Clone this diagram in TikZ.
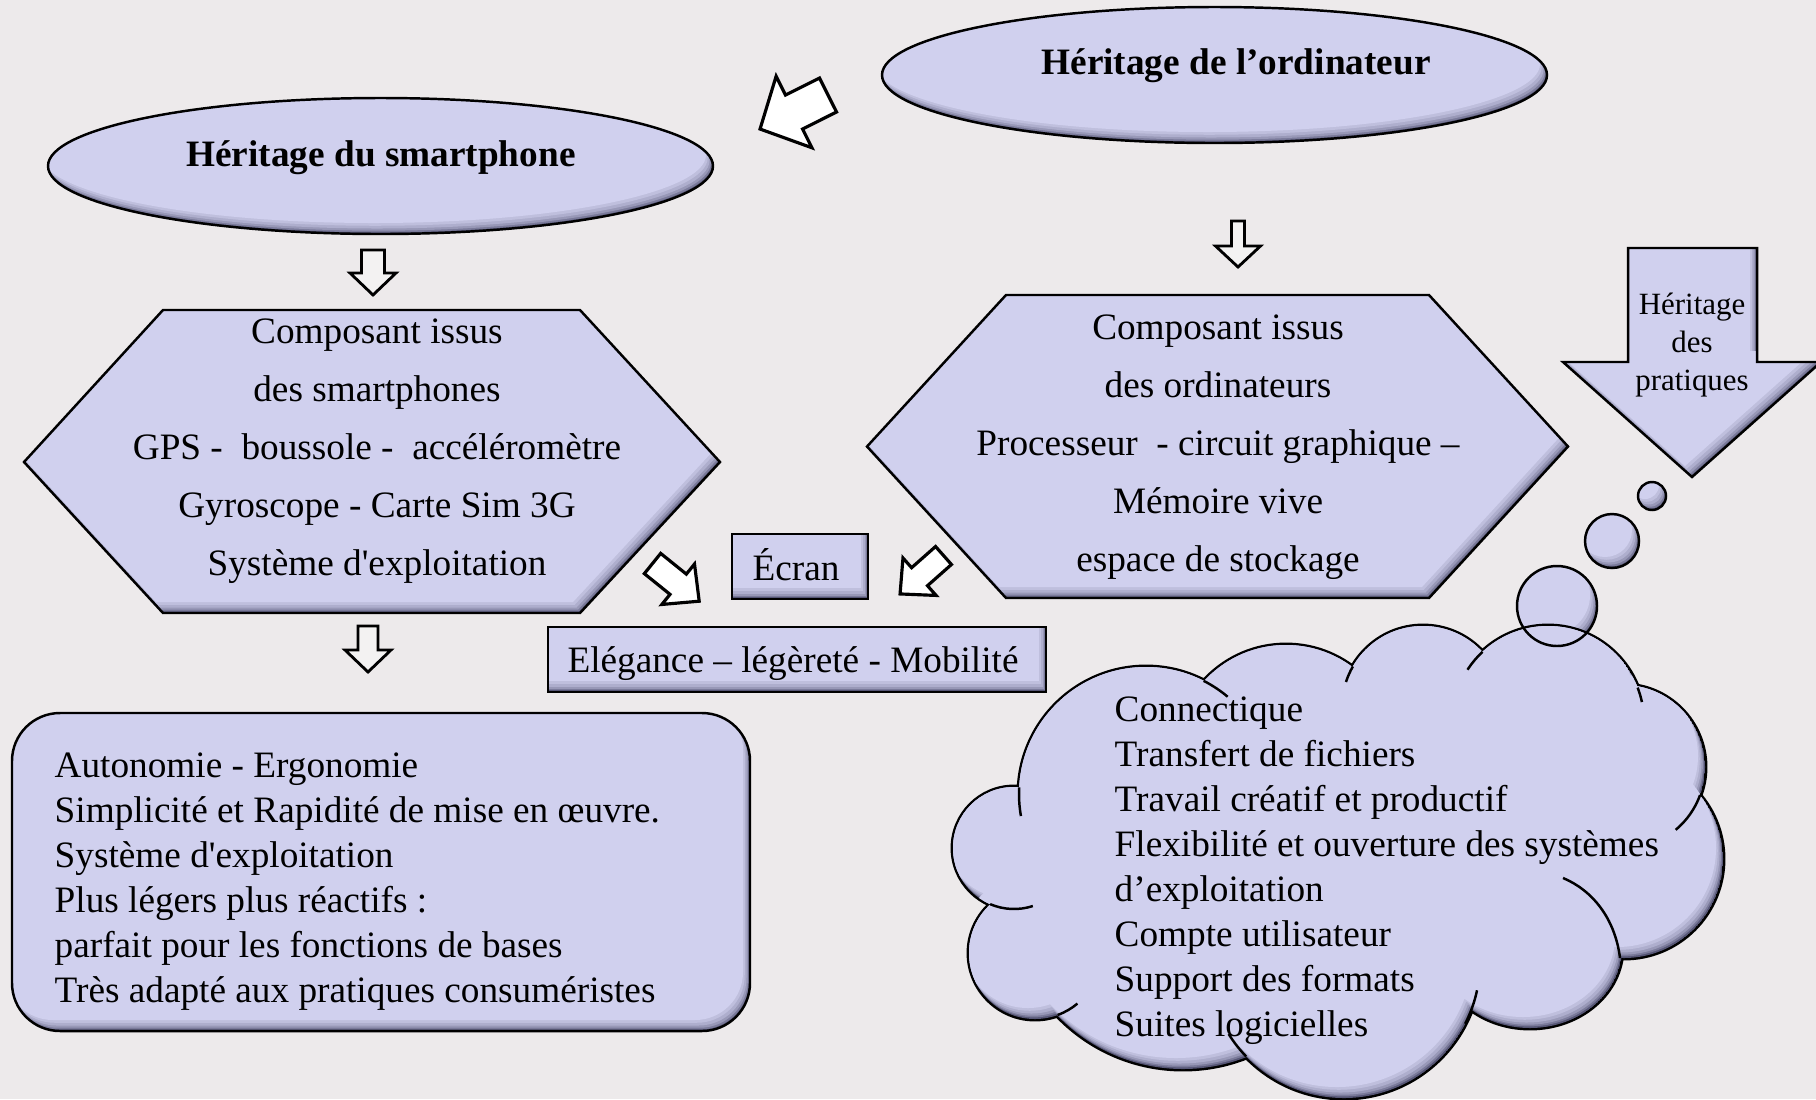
\documentclass[tikz,border=0pt]{standalone}
\usepackage{fontspec}
\setmainfont{Liberation Serif}
\usepackage{tikz}

\definecolor{fond}{RGB}{237,234,235}
\definecolor{lavande}{RGB}{208,208,238}
\definecolor{ombre}{RGB}{86,86,118}
\definecolor{clair}{RGB}{243,242,242}

% 填充 + 内阴影
\newcommand{\remplir}[1]{%
  \begin{scope}
    \clip #1;
    \fill[ombre] #1;
    \foreach \kk/\oo in {0.15/0.3,0.3/0.35,0.5/0.4,0.75/0.5}
      \fill[lavande,opacity=\oo,shift={(-0.07*\kk,0.11*\kk)}] #1;
    \fill[lavande,shift={(-0.07,0.11)}] #1;
  \end{scope}}
\newcommand{\forme}[1]{\remplir{#1}\draw[trait] #1;}
\newcommand{\nuage}[1]{\draw[trait,line width=1.4pt] #1; \remplir{#1}}
% 块箭头: x, y, 角度, 长度, 半杆宽, 半头宽, 头长, 样式
\newcommand{\bloc}[8]{%
  \draw[#8,shift={(#1,#2)},rotate=#3] (0,{-#5}) -- ({#4-#7},{-#5}) -- ({#4-#7},{-#6})
    -- (#4,0) -- ({#4-#7},#6) -- ({#4-#7},#5) -- (0,#5) -- cycle;}

\begin{document}
\begin{tikzpicture}[
    trait/.style={draw=black,line width=0.7pt},
    blanc/.style={fill=white,draw=black,line width=0.9pt},
    pale/.style={fill=clair,draw=black,line width=0.8pt},
    titre/.style={font=\fontsize{10.6}{12.8}\selectfont\bfseries,anchor=base,inner sep=0pt},
    hexa/.style={font=\fontsize{10.6}{16.5}\selectfont,align=center,inner sep=0pt},
    liste/.style={font=\fontsize{10.6}{12.8}\selectfont,align=left,anchor=west,inner sep=0pt},
    boite/.style={font=\fontsize{10.6}{12.8}\selectfont,anchor=base,inner sep=0pt}]
    % 背景
    \useasboundingbox (0,0) rectangle (18.16,-10.99);
    \fill[fond] (0,0) rectangle (18.16,-10.99);

    % 绘制形状
    \forme{(12.145,-0.75) ellipse (3.325 and 0.68)}
    \forme{(3.805,-1.66) ellipse (3.325 and 0.68)}
    \forme{(0.24,-4.62) -- (1.63,-3.10) -- (5.80,-3.10) -- (7.20,-4.62) -- (5.80,-6.13) -- (1.63,-6.13) -- cycle}
    \forme{(8.67,-4.465) -- (10.06,-2.95) -- (14.29,-2.95) -- (15.68,-4.465) -- (14.29,-5.98) -- (10.06,-5.98) -- cycle}
    \forme{(7.32,-5.34) rectangle (8.68,-5.99)}
    \forme{(5.48,-6.27) rectangle (10.46,-6.92)}
    \forme{[rounded corners=0.48cm] (0.12,-7.13) rectangle (7.50,-10.31)}
    \forme{(16.28,-2.48) -- (17.57,-2.48) -- (17.57,-3.62) -- (18.21,-3.62) -- (16.92,-4.77) -- (15.63,-3.62) -- (16.28,-3.62) -- cycle}

    % 云
    \remplir{(16.52,-4.96) circle (0.14) (16.12,-5.41) circle (0.27) (15.57,-6.06) circle (0.40)}
    \nuage{(11.46,-7.94) circle (1.27) (12.86,-7.56) circle (1.11) (14.23,-7.07) circle (0.81)
      (15.48,-7.22) circle (0.96) (16.23,-7.67) circle (0.82) (16.24,-8.59) circle (0.99)
      (15.30,-9.48) ellipse (0.92 and 0.80) (13.44,-9.62) circle (1.36) (11.83,-8.95) circle (1.74)
      (10.35,-9.53) circle (0.66) (10.14,-8.48) circle (0.61) (13.30,-8.40) ellipse (3.20 and 1.60)}
    \draw[trait] (16.52,-4.96) circle (0.14) (16.12,-5.41) circle (0.27) (15.57,-6.06) circle (0.40);
    \draw[trait] (11.46,-7.94) ++(177:1.27) arc[start angle=177,end angle=190,radius=1.27];
    \draw[trait] (11.46,-7.94) ++(63:1.27) arc[start angle=63,end angle=50,radius=1.27];
    \draw[trait] (14.23,-7.07) ++(150:0.81) arc[start angle=150,end angle=162,radius=0.81];
    \draw[trait] (15.48,-7.22) ++(133:0.96) arc[start angle=133,end angle=147,radius=0.96];
    \draw[trait] (15.48,-7.22) ++(21:0.96) arc[start angle=21,end angle=12,radius=0.96];
    \draw[trait] (16.23,-7.67) ++(-20:0.82) arc[start angle=-20,end angle=-50,radius=0.82];
    \draw[trait] (16.20,-9.58) .. controls (16.15,-9.18) and (15.92,-8.90) .. (15.63,-8.78);
    \draw[trait] (13.44,-9.62) ++(-27:1.36) arc[start angle=-27,end angle=-12,radius=1.36];
    \draw[trait] (13.44,-9.62) ++(224:1.36) arc[start angle=224,end angle=212,radius=1.36];
    \draw[trait] (10.35,-9.53) ++(-70:0.66) arc[start angle=-70,end angle=-50,radius=0.66];
    \draw[trait] (10.14,-8.48) ++(-113:0.61) arc[start angle=-113,end angle=-72,radius=0.61];

    % 箭头
    \bloc{8.28}{-0.95}{206.6}{0.76}{0.19}{0.40}{0.38}{blanc}
    \bloc{6.525}{-5.635}{-38.9}{0.60}{0.13}{0.26}{0.27}{blanc}
    \bloc{9.435}{-5.555}{221.5}{0.58}{0.12}{0.25}{0.26}{blanc}
    \bloc{3.73}{-2.50}{-90}{0.45}{0.115}{0.23}{0.22}{pale}
    \bloc{12.38}{-2.21}{-90}{0.46}{0.065}{0.225}{0.21}{pale}
    \bloc{3.68}{-6.26}{-90}{0.46}{0.10}{0.23}{0.22}{pale}

    % 文字
    \node[titre] (ordi) at (12.36,-0.74) {Héritage de l’ordinateur};
    \node[titre] (smart) at (3.81,-1.66) {Héritage du smartphone};
    \node[hexa] (compsmart) at (3.77,-4.515) {Composant issus\\des smartphones\\GPS -\ \ boussole -\ \ accéléromètre\\Gyroscope - Carte Sim 3G\\Système d\textquotesingle exploitation};
    \node[hexa] (compordi) at (12.18,-4.475) {Composant issus\\des ordinateurs\\Processeur\ \ - circuit graphique –\\Mémoire vive\\espace de stockage};
    \node[boite] (ecran) at (7.96,-5.80) {Écran};
    \node[boite] (elegance) at (7.93,-6.72) {Elégance – légèreté - Mobilité};
    \node[hexa,font=\fontsize{8.8}{10.8}\selectfont] (heritpra) at (16.92,-3.45) {Héritage\\des\\pratiques};
    \node[liste] (usages) at (0.54,-8.82) {Autonomie - Ergonomie\\Simplicité et Rapidité de mise en œuvre.\\Système d\textquotesingle exploitation\\Plus légers plus réactifs :\\parfait pour les fonctions de bases\\Très adapté aux pratiques consuméristes};
    \node[liste] (nuagetxt) at (11.14,-8.71) {Connectique\\Transfert de fichiers\\Travail créatif et productif\\Flexibilité et ouverture des systèmes\\d’exploitation\\Compte utilisateur\\Support des formats\\Suites logicielles};
\end{tikzpicture}
\end{document}
